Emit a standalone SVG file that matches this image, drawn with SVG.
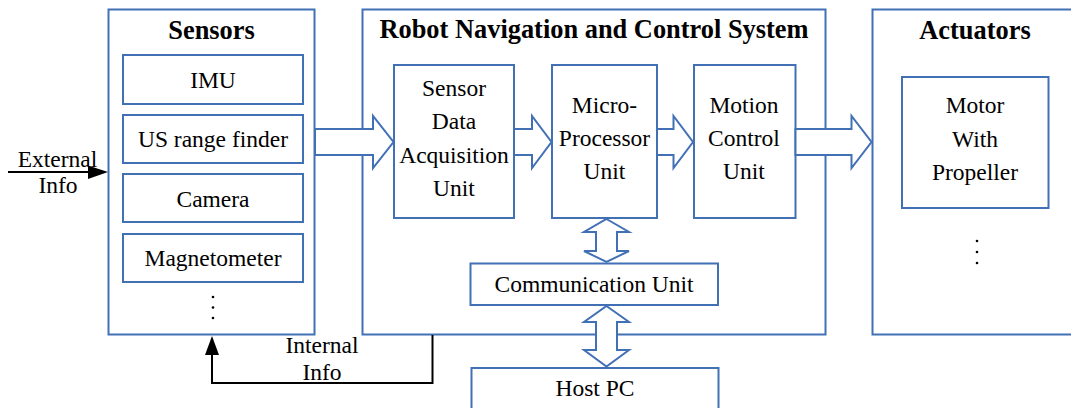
<svg xmlns="http://www.w3.org/2000/svg" width="1071" height="408" viewBox="0 0 1071 408">
<style>
.box{fill:#fff;stroke:#4170b5;stroke-width:2}
.blk{fill:#fff;stroke:#4170b5;stroke-width:2;stroke-linejoin:miter}
text{font-family:'Liberation Serif','Times New Roman','DejaVu Serif',serif;fill:#000;text-anchor:middle}
.t{font-size:23.5px}
.h{font-size:26.4px;font-weight:bold}
.ln{fill:none;stroke:#000;stroke-width:2}
</style>
<rect width="1071" height="408" fill="#fff"/>
<g id="sensors">
<rect class="box" x="108.5" y="9.5" width="206" height="325"/>
<text class="h" x="211.5" y="39">Sensors</text>
</g>
<g id="imu"><rect class="box" x="123" y="55" width="180" height="49"/><text class="t" x="213" y="88">IMU</text></g>
<g id="us"><rect class="box" x="123" y="115" width="180" height="48"/><text class="t" x="213" y="147">US range finder</text></g>
<g id="camera"><rect class="box" x="123" y="174" width="180" height="48"/><text class="t" x="213" y="206.5">Camera</text></g>
<g id="magnetometer"><rect class="box" x="123" y="234" width="180" height="48"/><text class="t" x="213" y="266">Magnetometer</text></g>
<g id="sensors-more"><circle cx="213" cy="297" r="1.3"/><circle cx="213" cy="307.5" r="1.3"/><circle cx="213" cy="318" r="1.3"/></g>
<g id="robot">
<rect class="box" x="362.5" y="9.5" width="463" height="325"/>
<text class="h" x="594" y="38">Robot Navigation and Control System</text>
</g>
<g id="actuators">
<rect class="box" x="872.5" y="9.5" width="210" height="325"/>
<text class="h" x="975" y="39">Actuators</text>
</g>
<g id="motor">
<rect class="box" x="902" y="77" width="146.5" height="131"/>
<text class="t" x="975" y="113">Motor</text>
<text class="t" x="975" y="147">With</text>
<text class="t" x="975" y="180">Propeller</text>
</g>
<g id="actuators-more"><circle cx="977" cy="241" r="1.3"/><circle cx="977" cy="252" r="1.3"/><circle cx="977" cy="263" r="1.3"/></g>
<g id="sda">
<rect class="box" x="394" y="65" width="120" height="153"/>
<text class="t" x="454" y="96">Sensor</text>
<text class="t" x="454" y="129">Data</text>
<text class="t" x="454" y="162.5">Acquisition</text>
<text class="t" x="454" y="196">Unit</text>
</g>
<g id="micro">
<rect class="box" x="552" y="65" width="105" height="153"/>
<text class="t" x="604.5" y="112.5">Micro-</text>
<text class="t" x="604.5" y="146">Processor</text>
<text class="t" x="604.5" y="179">Unit</text>
</g>
<g id="motion">
<rect class="box" x="694" y="65" width="101.5" height="153"/>
<text class="t" x="744" y="112.5">Motion</text>
<text class="t" x="744" y="146">Control</text>
<text class="t" x="744" y="179">Unit</text>
</g>
<g id="comm">
<rect class="box" x="470.5" y="263.5" width="247.5" height="41.5"/>
<text class="t" x="594" y="292">Communication Unit</text>
</g>
<g id="host">
<rect class="box" x="471.5" y="368" width="247" height="60"/>
<text class="t" x="595" y="396">Host PC</text>
</g>
<g id="connectors">
<polygon class="blk" points="315,129 373,129 373,116 393.5,142 373,168 373,155 315,155"/>
<polygon class="blk" points="514,129 532,129 532,116 551.5,142 532,168 532,155 514,155"/>
<polygon class="blk" points="657,129 673.5,129 673.5,116 693,142 673.5,168 673.5,155 657,155"/>
<polygon class="blk" points="795.5,129 851.5,129 851.5,116 871.5,142 851.5,168 851.5,155 795.5,155"/>
<polygon class="blk" points="606.5,219 629,232 617,232 617,251 629,251 606.5,262 584,251 596,251 596,232 584,232"/>
<polygon class="blk" points="606.5,306 629,322 617,322 617,350 629,350 606.5,366.5 584,350 596,350 596,322 584,322"/>
<line class="ln" x1="8" y1="172" x2="90" y2="172"/>
<polygon points="88,165.5 88,179 108,172" fill="#000"/>
<polyline class="ln" points="432.5,335 432.5,383 212,383 212,353"/>
<polygon points="205,355 219,355 212,336" fill="#000"/>
<text class="t" x="57.5" y="166.5">External</text>
<text class="t" x="58" y="193">Info</text>
<text class="t" x="322" y="353">Internal</text>
<text class="t" x="322" y="380">Info</text>
</g>
</svg>
